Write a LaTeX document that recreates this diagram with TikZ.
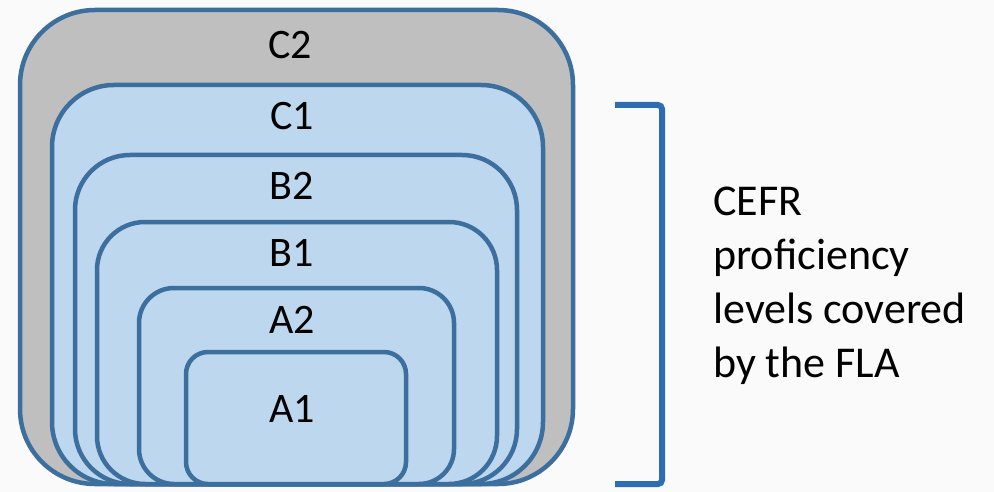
\documentclass[tikz,border=0pt]{standalone}
\usepackage{fontspec}
\setmainfont{Carlito}
\definecolor{bgc}{HTML}{FAFAFA}
\definecolor{edgec}{HTML}{3C6E9E}
\definecolor{lightb}{HTML}{BDD7EE}
\definecolor{grayc}{HTML}{BFBFBF}
\definecolor{brackc}{HTML}{2E6DB2}
\tikzset{
  levelbox/.style={draw=edgec, line width=4.5pt, fill=lightb},
  outerbox/.style={draw=edgec, line width=4.5pt, fill=grayc},
  lvl/.style={anchor=base, font=\fontsize{42}{50}\selectfont, inner sep=0pt},
  side/.style={anchor=base west, font=\fontsize{44}{54}\selectfont, inner sep=0pt, align=left},
  brack/.style={draw=brackc, line width=6pt, rounded corners=4pt}
}
\begin{document}
\begin{tikzpicture}[x=1pt,y=-1pt]
\fill[bgc] (0,0) rectangle (994,492);
\useasboundingbox (0,0) rectangle (994,492);
% boxes
\draw[outerbox, rounded corners=75pt] (20,10) rectangle (573,484);
\draw[levelbox, rounded corners=62pt] (52,85) rectangle (543,484);
\draw[levelbox, rounded corners=55pt] (75,155) rectangle (517,484);
\draw[levelbox, rounded corners=48pt] (97,222) rectangle (497,484);
\draw[levelbox, rounded corners=35pt] (139,288) rectangle (454,484);
\draw[levelbox, rounded corners=22pt] (186,352) rectangle (406,484);
% labels
\node[lvl] (c2) at (290,59) {C2};
\node[lvl] (c1) at (292,130) {C1};
\node[lvl] (b2) at (292,200) {B2};
\node[lvl] (b1) at (292,266) {B1};
\node[lvl] (a2) at (292,333) {A2};
\node[lvl] (a1) at (292,422) {A1};
% bracket
\coordinate (bt) at (615,105);
\coordinate (bb) at (615,484);
\draw[brack] (bt) -- (662,105) -- (662,484) -- (bb);
% side text
\node[side] (cefr) at (713,215) {CEFR};
\node[side] (prof) at (713,269) {proficiency};
\node[side] (lev) at (713,323) {levels covered};
\node[side] (by) at (713,377) {by the FLA};
\end{tikzpicture}
\end{document}
